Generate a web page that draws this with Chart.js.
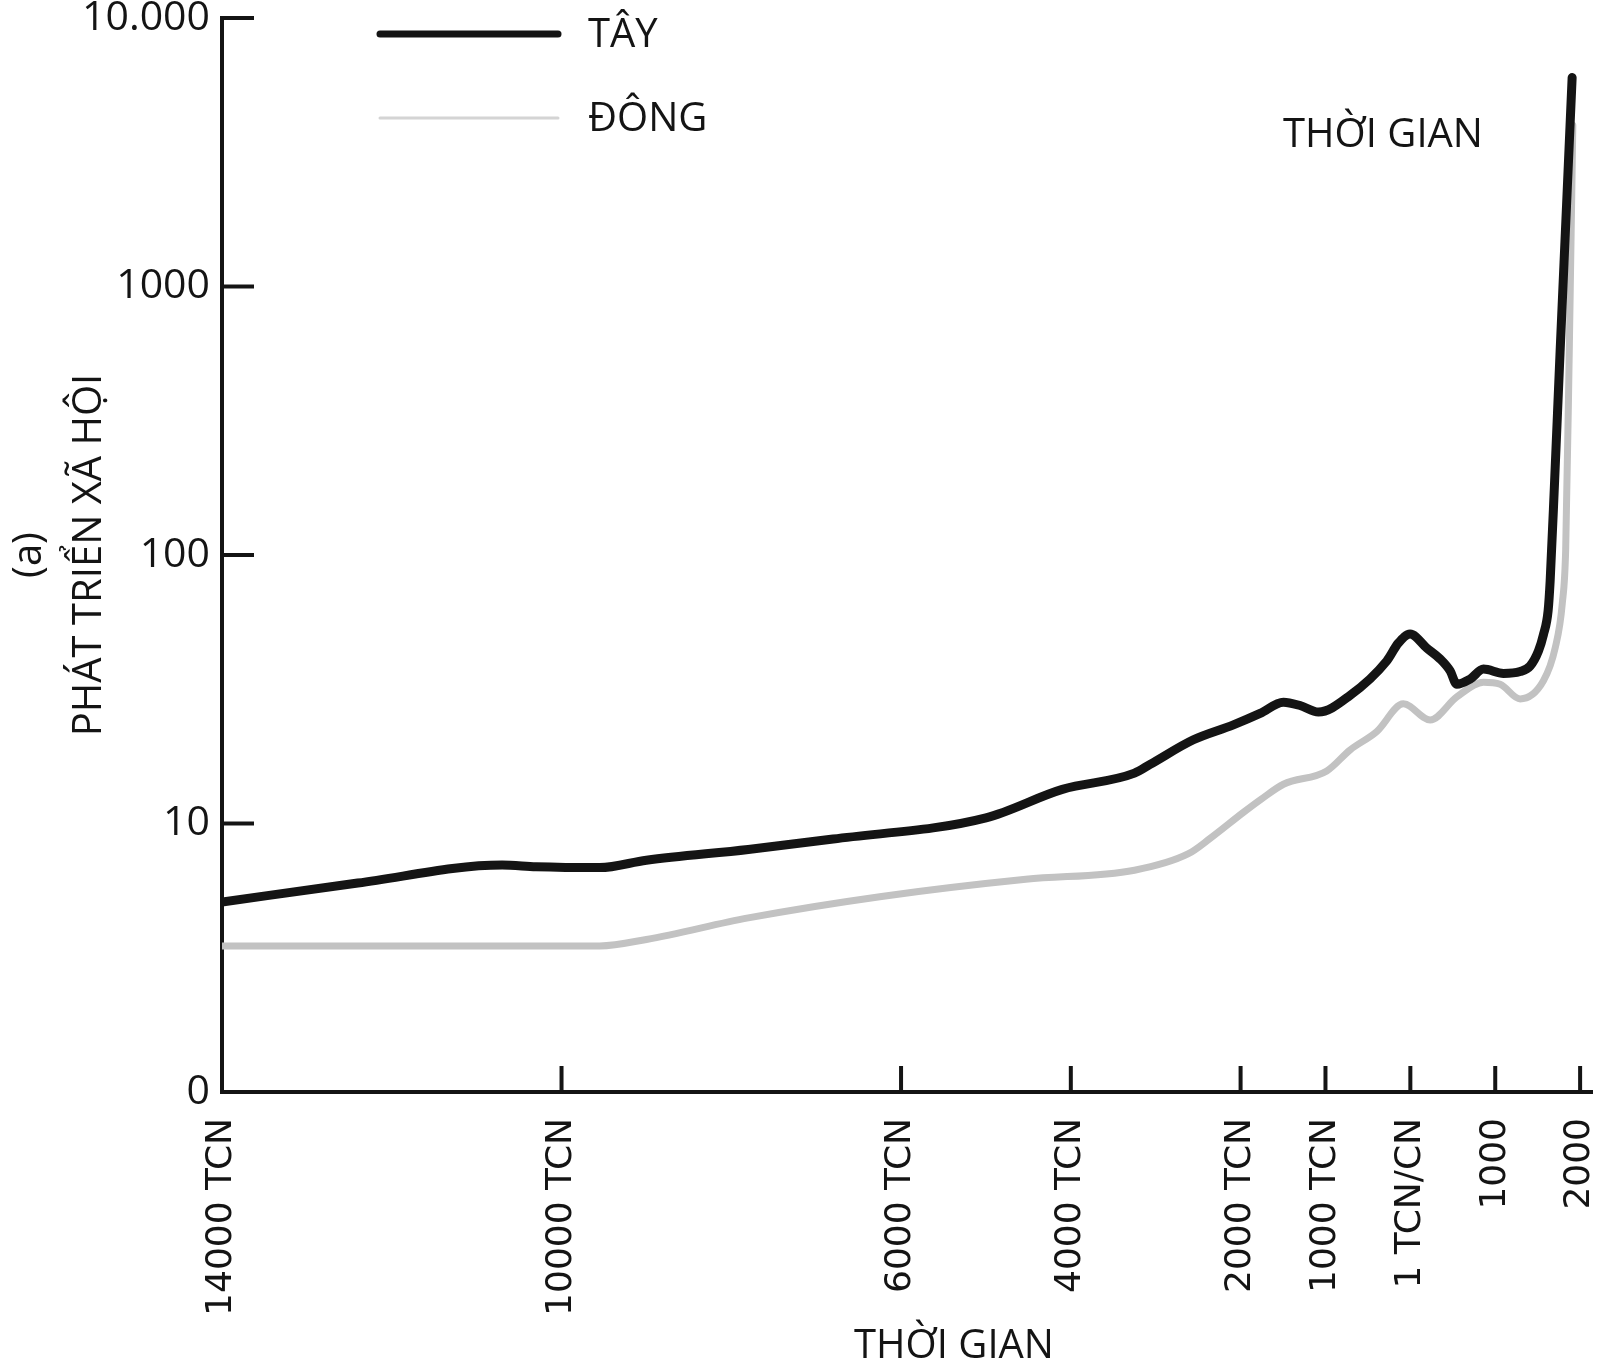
<!DOCTYPE html>
<html lang="vi">
<head>
<meta charset="utf-8">
<title>Phát triển xã hội Tây – Đông</title>
<script src="https://cdn.jsdelivr.net/npm/chart.js@4.4.1/dist/chart.umd.min.js"></script>
<style>
  html, body { margin: 0; padding: 0; background: #fff; }
  #wrap { width: 1600px; height: 1371px; }
</style>
</head>
<body>
<div id="wrap"><canvas id="chart"></canvas></div>
<script>
// years (negative = TCN) and social development score
const westYears = [-14000, -12400, -10700, -10300, -9550, -9000, -7800, -6800, -5000, -4100,
  -3250, -3066, -2556, -2085, -1770, -1495, -1299, -1083, -710, -278, -141, -3, 194, 351,
  469, 547, 704, 861, 1097, 1293, 1411, 1509, 1568, 1623, 1647, 1700, 1764, 1840, 1906];
const westValues = [5.1, 6.0, 7.0, 6.9, 6.85, 7.3, 8.0, 8.75, 10.5, 13.4,
  15.4, 16.6, 20.5, 23.3, 25.7, 28.3, 27.5, 26, 30, 40.3, 47, 50.8, 45, 41,
  37, 33, 34.5, 37.6, 36.2, 36.8, 38.6, 43.9, 50.5, 62, 80, 190, 570, 2000, 6000];

const eastYears = [-14000, -9550, -9000, -7800, -6230, -4530, -3250, -2620, -2359, -1967,
  -1760, -1495, -984, -710, -396, -82, 233, 547, 861, 1058, 1293, 1568, 1706, 1790,
  1830, 1872, 1914];
const eastValues = [3.5, 3.5, 3.7, 4.45, 5.35, 6.2, 6.7, 7.7, 8.8, 11,
  12.3, 14, 15.7, 18.8, 22, 27.9, 24.3, 29.6, 33.6, 33, 29.1, 34, 45, 66,
  105, 570, 3990];

const xTickYears = [-14000, -10000, -6000, -4000, -2000, -1000, 0, 1000, 2000];
const xTickLabels = ['14000 TCN', '10000 TCN', '6000 TCN', '4000 TCN', '2000 TCN',
  '1000 TCN', '1 TCN/CN', '1000', '2000'];
const yTickValues = [1, 10, 100, 1000, 10000];
const yTickLabels = ['0', '10', '100', '1000', '10.000'];

const toPoints = (xs, ys) => xs.map((x, i) => ({ x: x, y: ys[i] }));

const INK = '#141414';
const GREY = '#c2c2c2';
const SANS = "'Open Sans', 'Noto Sans', sans-serif";
const legendLineWidths = [7, 3];
const legendLineColors = [INK, '#d4d4d4'];

// inward tick marks, the legend and the loose labels
const extrasPlugin = {
  id: 'extras',
  afterDraw(chart) {
    const { ctx, chartArea: area, scales } = chart;
    ctx.save();
    ctx.strokeStyle = INK;
    ctx.lineWidth = 4;
    scales.y.ticks.forEach(t => {
      if (t.value === scales.y.min) return;
      const y = scales.y.getPixelForValue(t.value);
      ctx.beginPath();
      ctx.moveTo(area.left, y);
      ctx.lineTo(area.left + 32, y);
      ctx.stroke();
    });
    scales.x.ticks.forEach(t => {
      if (t.value === scales.x.min) return;
      const x = scales.x.getPixelForValue(t.value);
      ctx.beginPath();
      ctx.moveTo(x, area.bottom);
      ctx.lineTo(x, area.bottom - 26);
      ctx.stroke();
    });

    ctx.font = '40px ' + SANS;
    ctx.fillStyle = INK;
    ctx.textBaseline = 'middle';
    chart.data.datasets.forEach((ds, i) => {
      const y = area.top + 16 + i * 84;
      ctx.strokeStyle = legendLineColors[i];
      ctx.lineWidth = legendLineWidths[i];
      ctx.lineCap = 'round';
      ctx.beginPath();
      ctx.moveTo(area.left + 158, y);
      ctx.lineTo(area.left + 336, y);
      ctx.stroke();
      ctx.textAlign = 'left';
      ctx.fillText(ds.label, area.left + 366, y + 2);
    });

    ctx.textAlign = 'left';
    ctx.fillText('THỜI GIAN', area.left + 1061, area.top + 118);

    ctx.textAlign = 'center';
    ctx.fillText('THỜI GIAN', (area.left + area.right) / 2 + 47, area.bottom + 255);
    ctx.restore();
  }
};

new Chart(document.getElementById('chart'), {
  type: 'line',
  data: {
    datasets: [
      {
        label: 'TÂY',
        data: toPoints(westYears, westValues),
        borderColor: INK,
        borderWidth: 9,
        pointRadius: 0,
        cubicInterpolationMode: 'monotone',
        borderCapStyle: 'round',
        borderJoinStyle: 'round',
        fill: false
      },
      {
        label: 'ĐÔNG',
        data: toPoints(eastYears, eastValues),
        borderColor: GREY,
        borderWidth: 7,
        pointRadius: 0,
        cubicInterpolationMode: 'monotone',
        borderCapStyle: 'round',
        borderJoinStyle: 'round',
        fill: false
      }
    ]
  },
  options: {
    responsive: true,
    maintainAspectRatio: false,
    devicePixelRatio: 1,
    animation: false,
    layout: { padding: { top: 18, right: 8, bottom: 0, left: 0 } },
    plugins: {
      legend: { display: false },
      tooltip: { enabled: false }
    },
    scales: {
      x: {
        type: 'linear',
        min: -14000,
        max: 2140,
        afterBuildTicks: s => { s.ticks = xTickYears.map(v => ({ value: v })); },
        afterFit: s => { s.height = 279; s.paddingLeft = 0; s.paddingRight = 0; },
        ticks: {
          callback: v => xTickLabels[xTickYears.indexOf(v)],
          autoSkip: false,
          minRotation: 90,
          maxRotation: 90,
          padding: 26,
          color: INK,
          font: { family: "'DejaVu Sans', sans-serif", size: 36 }
        },
        grid: { display: false, drawTicks: false },
        border: { display: true, color: INK, width: 4 }
      },
      y: {
        type: 'logarithmic',
        min: 1,
        max: 10000,
        afterBuildTicks: s => { s.ticks = yTickValues.map(v => ({ value: v })); },
        afterFit: s => { s.width = 222; s.paddingTop = 0; s.paddingBottom = 0; },
        ticks: {
          callback: v => yTickLabels[yTickValues.indexOf(v)],
          padding: 12,
          color: INK,
          font: { family: SANS, size: 41 }
        },
        grid: { display: false, drawTicks: false },
        border: { display: true, color: INK, width: 4 },
        title: {
          display: true,
          text: ['(a)', 'PHÁT TRIỂN XÃ HỘI'],
          color: INK,
          font: { family: SANS, size: 40, lineHeight: 1.5 },
          padding: { top: 0, bottom: 0 }
        }
      }
    }
  },
  plugins: [extrasPlugin]
});
</script>
</body>
</html>
